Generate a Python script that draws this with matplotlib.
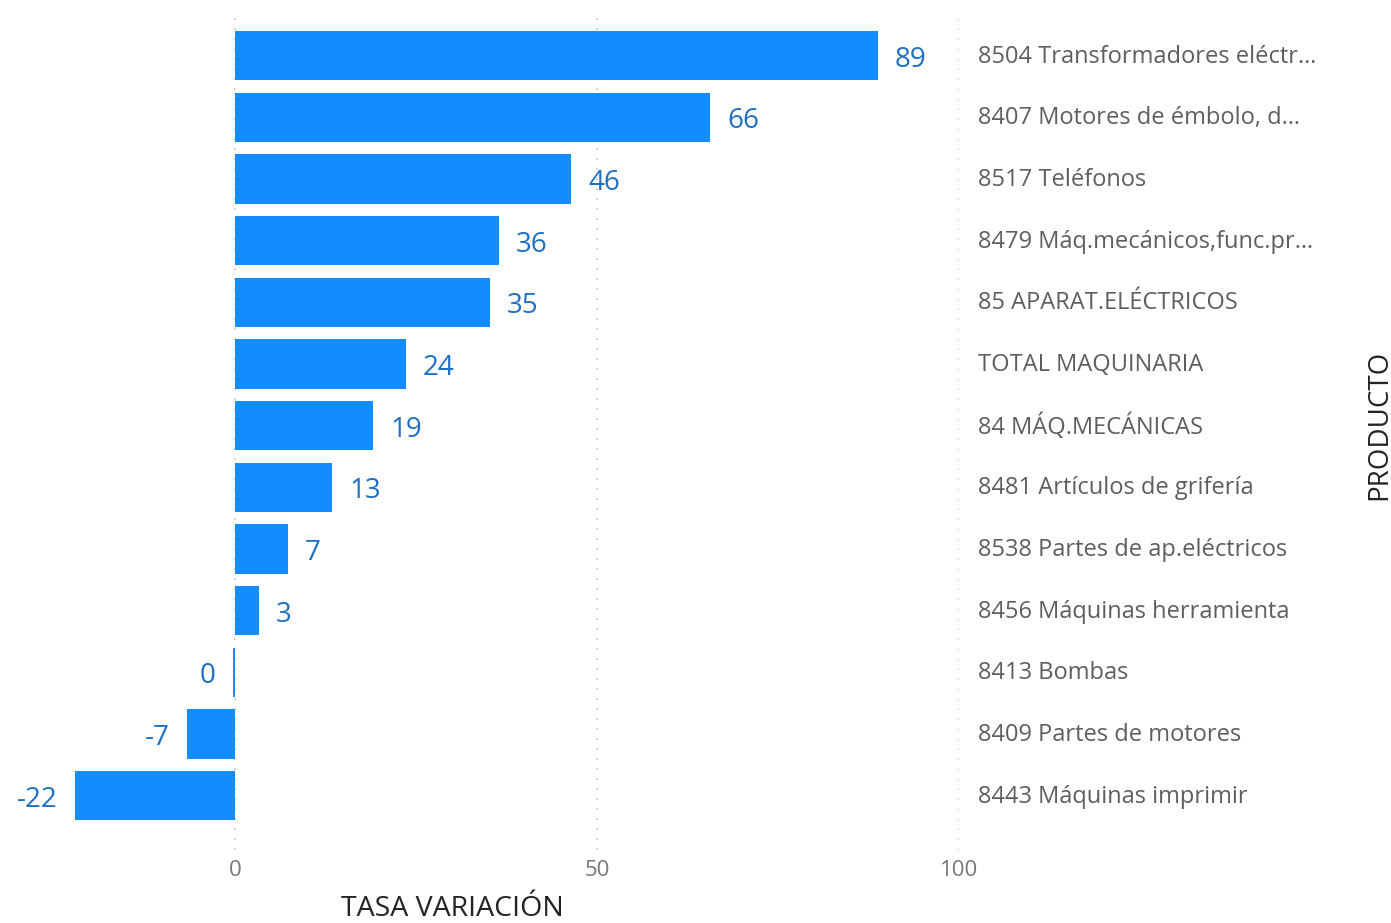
import matplotlib
matplotlib.use("Agg")
import matplotlib.pyplot as plt

# data (tasa de variacion, %)
productos = [
    "8504 Transformadores eléctr…",
    "8407 Motores de émbolo, d…",
    "8517 Teléfonos",
    "8479 Máq.mecánicos,func.pr…",
    "85 APARAT.ELÉCTRICOS",
    "TOTAL MAQUINARIA",
    "84 MÁQ.MECÁNICAS",
    "8481 Artículos de grifería",
    "8538 Partes de ap.eléctricos",
    "8456 Máquinas herramienta",
    "8413 Bombas",
    "8409 Partes de motores",
    "8443 Máquinas imprimir",
]
tasa = [88.8, 65.6, 46.4, 36.4, 35.2, 23.6, 19.1, 13.4, 7.3, 3.3, -0.3, -6.6, -22.1]
x_ticks = [0, 50, 100]

bar_color = "#118DFF"
label_color = "#1F6FC5"
cat_color = "#605E5C"
tick_color = "#777777"

plt.rcParams['font.family'] = ['Open Sans', 'DejaVu Sans']

W, H = 1391, 923
fig = plt.figure(figsize=(W / 100, H / 100), dpi=100)
# axes placed in pixel terms: from left edge to the 100 gridline
ax = fig.add_axes([0, (H - 850) / H, 959 / W, (850 - 15) / H])

pos = list(range(len(productos)))
ax.barh(pos, tasa, height=0.8, color=bar_color, zorder=2)
ax.set_xlim(-32.46, 100)
ax.set_ylim(len(productos) - 1 + 0.88, -0.66)

for y, v in zip(pos, tasa):
    txt = str(int(round(v)))
    if v > 0:
        ax.annotate(txt, (v, y), xytext=(17, -4), textcoords="offset pixels",
                    ha="left", va="center", fontsize=20, color=label_color)
    else:
        ax.annotate(txt, (v, y), xytext=(-17, -4), textcoords="offset pixels",
                    ha="right", va="center", fontsize=20, color=label_color)

# category labels on the right side
for y, name in zip(pos, productos):
    ax.annotate(name, (1.0, y), xycoords=("axes fraction", "data"),
                xytext=(19, -1), textcoords="offset pixels",
                ha="left", va="center", fontsize=17, color=cat_color,
                annotation_clip=False)

for x in x_ticks:
    ax.axvline(x, color="#C8C6C4", linestyle=(0, (1, 5)), linewidth=1.2, zorder=1)
    ax.annotate(str(x), (x, 0), xycoords=("data", "axes fraction"),
                xytext=(0, -20), textcoords="offset pixels",
                ha="center", va="center", fontsize=16, color=tick_color,
                annotation_clip=False)

ax.set_xticks([])
ax.set_yticks([])
for s in ax.spines.values():
    s.set_visible(False)
ax.patch.set_alpha(0)

fig.text(452 / W, 1 - 909 / H, "TASA VARIACIÓN", ha="center", va="center",
         fontsize=20.5, color="#252423")
fig.text(1379 / W, 1 - 425 / H, "PRODUCTO", ha="center", va="center",
         rotation=90, fontsize=20, color="#252423")

fig.savefig("out.png", dpi=100)
